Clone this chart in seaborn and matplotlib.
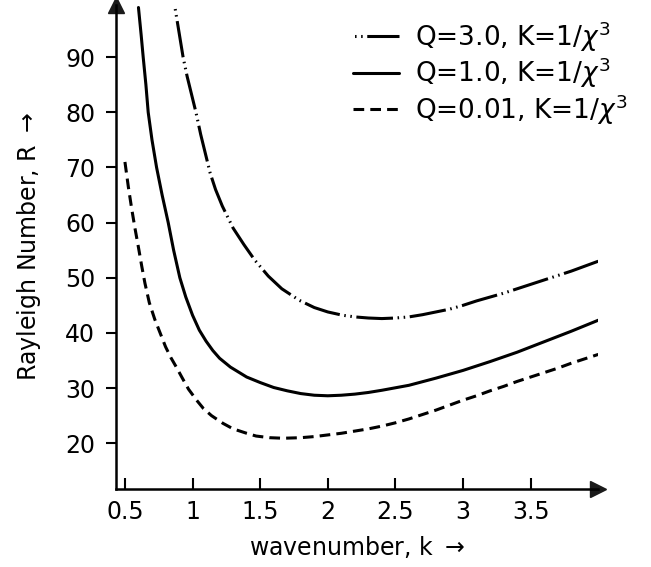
import numpy as np
import pandas as pd
import matplotlib
matplotlib.use("Agg")
import matplotlib.pyplot as plt
import seaborn as sns

# values
k_q3 = [0.87, 0.90, 0.93, 0.96, 1.0, 1.025, 1.06, 1.1, 1.13, 1.17, 1.22, 1.3,
        1.38, 1.46, 1.56, 1.66, 1.79, 1.9, 2.0, 2.11, 2.2, 2.3, 2.4, 2.5, 2.6,
        2.7, 2.8, 2.9, 3.0, 3.1, 3.2, 3.3, 3.4, 3.5, 3.6, 3.7, 3.8, 3.9, 4.0]
r_q3 = [99, 94.5, 90, 86.5, 82.5, 80, 76, 72, 69, 66, 63, 59,
        56, 53.2, 50.3, 48, 45.9, 44.6, 43.8, 43.2, 42.9, 42.7, 42.6, 42.7, 42.9,
        43.3, 43.8, 44.3, 45, 45.8, 46.5, 47.2, 48, 48.8, 49.6, 50.4, 51.2, 52.1, 53]

k_q1 = [0.60, 0.62, 0.635, 0.655, 0.672, 0.70, 0.734, 0.775, 0.82, 0.86, 0.906,
        0.95, 1.0, 1.05, 1.1, 1.15, 1.2, 1.28, 1.4, 1.5, 1.6, 1.7, 1.8, 1.9,
        2.0, 2.1, 2.2, 2.3, 2.4, 2.6, 2.8, 3.0, 3.2, 3.4, 3.6, 3.8, 4.0]
r_q1 = [99, 94, 90, 85, 80, 75, 70, 65, 60, 55, 50,
        46.5, 43.2, 40.5, 38.5, 36.8, 35.4, 33.8, 32, 31, 30.1, 29.5, 29, 28.7,
        28.6, 28.7, 28.9, 29.2, 29.6, 30.5, 31.8, 33.2, 34.8, 36.5, 38.4, 40.3, 42.3]

k_q001 = [0.5, 0.525, 0.55, 0.574, 0.6, 0.625, 0.648, 0.68, 0.72, 0.76, 0.8,
          0.84, 0.88, 0.92, 0.97, 1.03, 1.08, 1.14, 1.225, 1.3, 1.4, 1.47, 1.57,
          1.67, 1.8, 1.9, 2.0, 2.1, 2.2, 2.3, 2.4, 2.5, 2.6, 2.7, 2.8, 2.9, 3.0,
          3.1, 3.2, 3.3, 3.4, 3.5, 3.6, 3.7, 3.8, 3.9, 4.0]
r_q001 = [71, 66.5, 62.5, 59, 55.5, 52, 49, 45.5, 42.5, 40, 37.5,
          35.5, 33.8, 32, 29.8, 27.8, 26.3, 25, 23.6, 22.6, 21.8, 21.3, 21,
          20.9, 21, 21.2, 21.5, 21.8, 22.2, 22.6, 23.1, 23.7, 24.4, 25.2, 26, 26.9, 27.8,
          28.6, 29.5, 30.3, 31.2, 32, 32.8, 33.6, 34.5, 35.3, 36.1]

labels = [r'Q=3.0, K=1/$\chi^3$', r'Q=1.0, K=1/$\chi^3$', r'Q=0.01, K=1/$\chi^3$']
x_ticks = [0.5, 1, 1.5, 2, 2.5, 3, 3.5]
x_ticklabels = ['0.5', '1', '1.5', '2', '2.5', '3', '3.5']
y_ticks = [20, 30, 40, 50, 60, 70, 80, 90]

sns.set_theme(style="white")
plt.rcParams['font.family'] = ['DejaVu Sans']
plt.rcParams['mathtext.fontset'] = 'dejavusans'
plt.rcParams['text.color'] = 'black'
plt.rcParams['axes.labelcolor'] = 'black'
plt.rcParams['xtick.color'] = 'black'
plt.rcParams['ytick.color'] = 'black'

fig = plt.figure(figsize=(6.51, 5.67), dpi=100)
ax = fig.add_axes([0.178, 0.1376, 0.741, 0.854])

curves = [
    (k_q3, r_q3, labels[0], (13, (12, 1.5, 0.5, 1.5, 0.5, 1.5))),
    (k_q1, r_q1, labels[1], '-'),
    (k_q001, r_q001, labels[2], (0, (3.5, 2))),
]
for kk, rr, lab, ls in curves:
    df = pd.DataFrame({'k': kk, 'R': rr})
    sns.lineplot(data=df, x='k', y='R', ax=ax, color='black', lw=2.2,
                 linestyle=ls, label=lab)

ax.set_xlim(0.433, 4.0)
ax.set_ylim(11.7, 99.5)
ax.set_xticks(x_ticks)
ax.set_xticklabels(x_ticklabels)
ax.set_yticks(y_ticks)
ax.tick_params(axis='x', direction='in', length=8, width=1.5, labelsize=17,
               pad=8, bottom=True)
ax.tick_params(axis='y', direction='out', length=7, width=1.5, labelsize=17,
               pad=8, left=True)

for side in ['top', 'right']:
    ax.spines[side].set_visible(False)
for side in ['left', 'bottom']:
    ax.spines[side].set_color('black')
    ax.spines[side].set_linewidth(1.8)

# arrowheads on the axes
ax.plot(1, 0, '>k', ms=12, transform=ax.transAxes, clip_on=False)
ax.plot(0, 1, '^k', ms=11, transform=ax.transAxes, clip_on=False)

ax.set_xlabel('wavenumber, k $\\rightarrow$', fontsize=17, labelpad=7)
ax.set_ylabel('Rayleigh Number, R $\\rightarrow$', fontsize=17, labelpad=16)

ax.legend(loc='upper left', bbox_to_anchor=(353 / 651, 1 - 19 / 567),
          bbox_transform=fig.transFigure, frameon=False, fontsize=19,
          handlelength=1.75, handletextpad=0.6, labelspacing=0.08,
          borderpad=0, borderaxespad=0)

fig.savefig('out.png', dpi=100)
